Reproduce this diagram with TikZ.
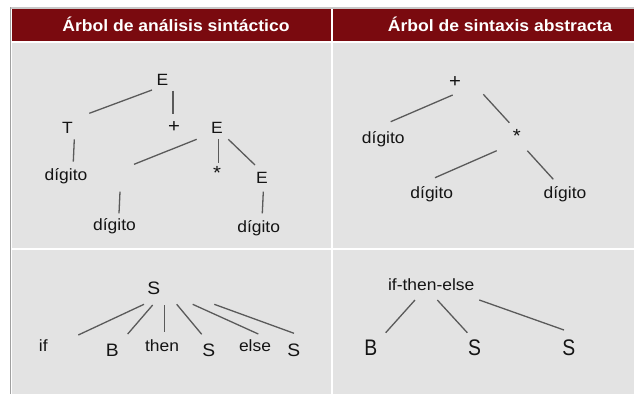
\documentclass[tikz,border=0pt]{standalone}
\usepackage{fontspec}
\setmainfont{Liberation Sans}[FakeStretch=1.07]
\newfontfamily\tallfont{Liberation Sans}[FakeStretch=0.86]
\usetikzlibrary{calc}
\definecolor{hdr}{RGB}{122,10,15}
\definecolor{cellbg}{RGB}{227,227,227}
\definecolor{edge}{RGB}{90,90,90}
\definecolor{ink}{RGB}{20,20,20}
\definecolor{rule}{RGB}{200,200,200}
\definecolor{lborder}{RGB}{160,160,160}
\begin{document}
\begin{tikzpicture}[x=1pt,y=-1pt,
  lbl/.style={inner sep=0pt, anchor=base, text=ink, font=\fontsize{16.3}{18}\selectfont},
  sym/.style={inner sep=0pt, anchor=center, text=ink, font=\fontsize{19}{21}\selectfont},
  bigl/.style={lbl, font=\fontsize{18}{20}\selectfont},
  hugel/.style={lbl, font=\tallfont\fontsize{22.5}{24}\selectfont},
  hd/.style={inner sep=0pt, anchor=base, text=white, font=\bfseries\fontsize{16.4}{18}\selectfont},
  link/.style={draw=edge, line width=1.3pt},
]
\useasboundingbox (0,0) rectangle (634,394);
\fill[white] (0,0) rectangle (634,394);
% frame and cells
\fill[rule] (10,7) rectangle (634,8.5);
\fill[lborder] (10,7) rectangle (11.3,394);
\fill[hdr] (12,9) rectangle (331,41);
\fill[hdr] (333,9) rectangle (634,41);
\fill[cellbg] (12,43) rectangle (331,248);
\fill[cellbg] (333,43) rectangle (634,248);
\fill[cellbg] (12,250) rectangle (331,394);
\fill[cellbg] (333,250) rectangle (634,394);
% headers
\node[hd] (h1) at (176,31) {Árbol de análisis sintáctico};
\node[hd] (h2) at (500,31) {Árbol de sintaxis abstracta};

% ---- top-left: parse tree
\node[lbl] (E1) at (162.5,85) {E};
\node[lbl] (T) at (67.5,133) {T};
\node[sym] (P1) at (174,127.5) {+};
\node[lbl] (E2) at (217,133) {E};
\node[lbl] (D1) at (66,180.5) {dígito};
\node[sym] (St1) at (217,172.5) {*};
\node[lbl] (E3) at (262,183) {E};
\coordinate (X) at (125,178);
\node[lbl] (D2) at (114.5,230.5) {dígito};
\node[lbl] (D3) at (258.7,232.5) {dígito};

\draw[link] ([shift={(-10.5,5)}]E1.base) -- ([shift={(21.8,-19.7)}]T.base);
\draw[link] ([shift={(10.5,5.7)}]E1.base) -- ([shift={(-1,-13.5)}]P1.center);
\draw[link] ([shift={(6.8,6.3)}]T.base) -- ([shift={(7.3,-18.8)}]D1.base);
\draw[link] ([shift={(-20.3,6.3)}]E2.base) -- ([shift={(9,-13.7)}]X);
\draw[link] ([shift={(1.3,6.3)}]E2.base) -- ([shift={(1.3,-9.2)}]St1.center);
\draw[link] ([shift={(11.3,6.3)}]E2.base) -- ([shift={(-7,-18)}]E3.base);
\draw[link] ([shift={(-5,13.7)}]X) -- ([shift={(4.5,-17.2)}]D2.base);
\draw[link] ([shift={(1.3,8.7)}]E3.base) -- ([shift={(3.6,-19.2)}]D3.base);

% ---- top-right: abstract syntax tree
\node[sym] (P2) at (455,81.7) {+};
\node[lbl] (D4) at (383.3,143.5) {dígito};
\node[sym] (St2) at (516.7,136) {*};
\node[lbl] (D5) at (431.8,198.6) {dígito};
\node[lbl] (D6) at (565,198.6) {dígito};

\draw[link] ([shift={(-2.3,13.3)}]P2.center) -- ([shift={(7.4,-21.8)}]D4.base);
\draw[link] ([shift={(28.3,12.6)}]P2.center) -- ([shift={(-7.4,-13.3)}]St2.center);
\draw[link] ([shift={(-20,14.7)}]St2.center) -- ([shift={(3.2,-20.9)}]D5.base);
\draw[link] ([shift={(10.6,14.7)}]St2.center) -- ([shift={(-11.7,-19.3)}]D6.base);

% ---- bottom-left
\node[bigl] (S0) at (153.8,294) {S};
\node[lbl] (kif) at (43.3,351.7) {if};
\node[bigl] (Bl) at (112.2,356.7) {B};
\node[lbl] (kthen) at (162,351.7) {then};
\node[bigl] (S1) at (208.7,356) {S};
\node[lbl] (kelse) at (255,351.7) {else};
\node[bigl] (S2) at (293.7,356) {S};

\draw[link] ([shift={(-9.8,10.3)}]S0.base) -- ([shift={(35,-16.7)}]kif.base);
\draw[link] ([shift={(-1.1,11)}]S0.base) -- ([shift={(15.5,-22.7)}]Bl.base);
\draw[link] ([shift={(10.5,11)}]S0.base) -- ([shift={(2.3,-19.4)}]kthen.base);
\draw[link] ([shift={(22.9,10.3)}]S0.base) -- ([shift={(-7,-21.7)}]S1.base);
\draw[link] ([shift={(38.9,10.3)}]S0.base) -- ([shift={(3.3,-17.7)}]kelse.base);
\draw[link] ([shift={(60.5,10.3)}]S0.base) -- ([shift={(0.3,-22.7)}]S2.base);

% ---- bottom-right
\node[lbl] (ite) at (431.2,290) {if-then-else};
\node[hugel] (Br) at (370.8,355.7) {B};
\node[hugel] (S1r) at (474.5,355.7) {S};
\node[hugel] (S2r) at (568.7,355.7) {S};

\draw[link] ([shift={(-16.2,10)}]ite.base) -- ([shift={(14.9,-23)}]Br.base);
\draw[link] ([shift={(6.1,10)}]ite.base) -- ([shift={(-7.2,-23)}]S1r.base);
\draw[link] ([shift={(48.1,10)}]ite.base) -- ([shift={(-4.7,-25.7)}]S2r.base);
\end{tikzpicture}
\end{document}
